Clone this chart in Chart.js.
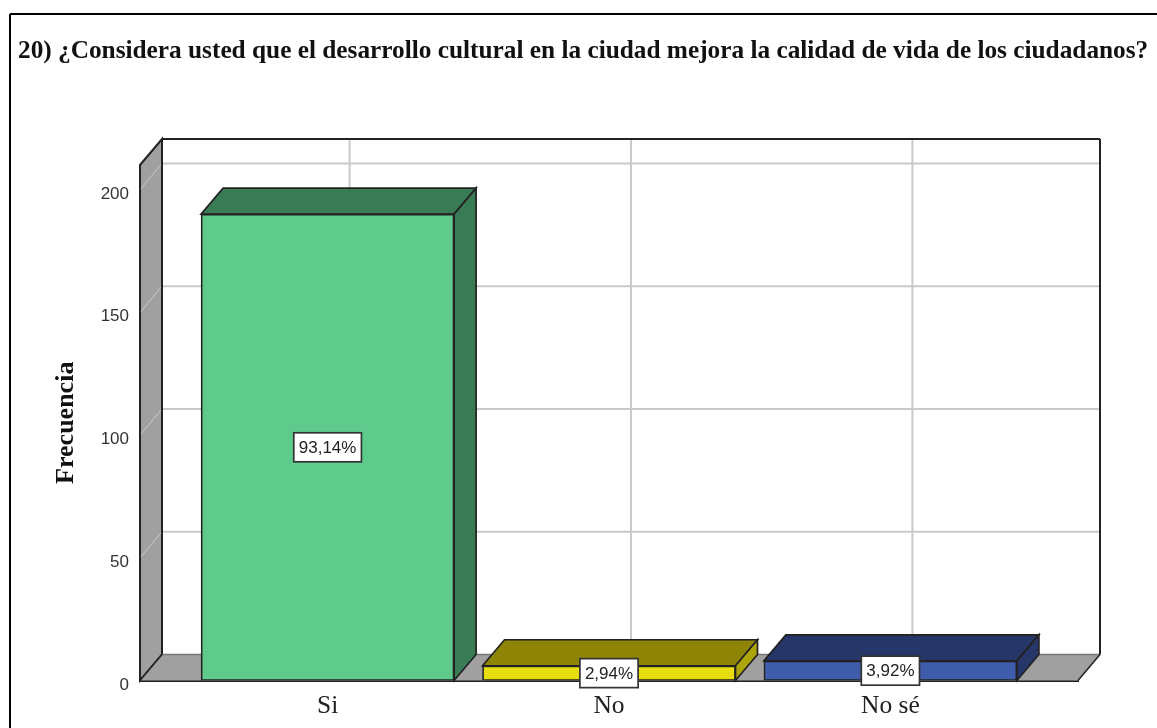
<!DOCTYPE html>
<html>

<head>
    <meta charset="UTF-8">
    <title>Frecuencia</title>
    <script src="https://cdn.jsdelivr.net/npm/chart.js@4.4.0/dist/chart.umd.min.js"></script>
    <style>
        html, body { margin: 0; padding: 0; background: #fff; overflow: hidden; }
        canvas { display: block; }
    </style>
</head>

<body>
    <canvas id="barChart" width="1157" height="728"></canvas>

    <script>
        const chartTitle = '20) ¿Considera usted que el desarrollo cultural en la ciudad mejora la calidad de vida de los ciudadanos?';
        const axisTitle = 'Frecuencia';
        const categories = ['Si', 'No', 'No sé'];
        const frequencies = [190, 6, 8];
        const percentLabels = ['93,14%', '2,94%', '3,92%'];
        const yTicks = [0, 50, 100, 150, 200];

        const frontColors = ['#5ECB8C', '#E6DC0E', '#3F5DAA'];
        const topColors = ['#387B54', '#8E8507', '#263668'];
        const sideColors = ['#387B54', '#ADA40A', '#263668'];

        // depth of the fake 3D box, in pixels
        const depthX = 22;
        const depthY = 26;
        const lineColor = '#222';
        const gridColor = '#c9c9c9';
        const wallColor = '#a0a0a0';

        function polygon(ctx, pts, fill, stroke, width) {
            ctx.beginPath();
            pts.forEach((p, i) => i ? ctx.lineTo(p[0], p[1]) : ctx.moveTo(p[0], p[1]));
            ctx.closePath();
            ctx.fillStyle = fill;
            ctx.fill();
            if (stroke) {
                ctx.strokeStyle = stroke;
                ctx.lineWidth = width;
                ctx.stroke();
            }
        }

        function line(ctx, x1, y1, x2, y2, color, width) {
            ctx.beginPath();
            ctx.moveTo(x1, y1);
            ctx.lineTo(x2, y2);
            ctx.strokeStyle = color;
            ctx.lineWidth = width;
            ctx.stroke();
        }

        const boxPlugin = {
            id: 'box3d',
            afterLayout(chart) {
                // the title runs past the plot, chart.js would squeeze it to the padded width
                chart.titleBlock.right = chart.width;
            },
            beforeDraw(chart) {
                const ctx = chart.ctx;
                // outer frame, cut off by the picture on the right and at the bottom
                ctx.save();
                line(ctx, 10, 14, 1157, 14, '#000', 2);
                line(ctx, 10, 14, 10, 728, '#000', 2);
                ctx.restore();
            },
            beforeDatasetsDraw(chart) {
                const ctx = chart.ctx;
                const a = chart.chartArea;
                const y = chart.scales.y;
                const x = chart.scales.x;
                ctx.save();

                // back wall grid
                yTicks.forEach(v => {
                    const py = y.getPixelForValue(v);
                    if (v > 0) line(ctx, a.left + depthX, py - depthY, a.right + depthX, py - depthY, gridColor, 2);
                });
                categories.forEach((c, i) => {
                    const px = x.getPixelForValue(i) + depthX;
                    line(ctx, px, a.top - depthY, px, a.bottom - depthY, gridColor, 2);
                });

                // left wall
                polygon(ctx, [[a.left, a.top], [a.left + depthX, a.top - depthY], [a.left + depthX, a.bottom - depthY], [a.left, a.bottom]], wallColor, lineColor, 2);
                yTicks.forEach(v => {
                    const py = y.getPixelForValue(v);
                    line(ctx, a.left + 1, py - 1, a.left + depthX - 1, py - depthY + 1, gridColor, 1);
                });

                // floor
                polygon(ctx, [[a.left, a.bottom], [a.left + depthX, a.bottom - depthY], [a.right + depthX, a.bottom - depthY], [a.right, a.bottom]], wallColor);
                line(ctx, a.left + depthX, a.bottom - depthY, a.right + depthX, a.bottom - depthY, '#777', 1.5);
                line(ctx, a.right, a.bottom, a.right + depthX, a.bottom - depthY, lineColor, 1.5);
                line(ctx, a.left, a.bottom, a.left + depthX, a.bottom - depthY, lineColor, 1.5);

                // top and right edge of the back wall
                line(ctx, a.left + depthX, a.top - depthY, a.right + depthX, a.top - depthY, lineColor, 2);
                line(ctx, a.right + depthX, a.top - depthY, a.right + depthX, a.bottom - depthY, lineColor, 2);
                line(ctx, a.left + depthX, a.top - depthY, a.left + depthX, a.bottom - depthY, lineColor, 2);

                // top and side faces of the bars
                chart.getDatasetMeta(0).data.forEach((bar, i) => {
                    const l = bar.x - bar.width / 2;
                    const r = bar.x + bar.width / 2;
                    polygon(ctx, [[l, bar.y], [l + depthX, bar.y - depthY], [r + depthX, bar.y - depthY], [r, bar.y]], topColors[i], lineColor, 1.7);
                    polygon(ctx, [[r, bar.y], [r + depthX, bar.y - depthY], [r + depthX, bar.base - depthY], [r, bar.base]], sideColors[i], lineColor, 1.7);
                });
                ctx.restore();
            },
            afterDatasetsDraw(chart) {
                const ctx = chart.ctx;
                ctx.save();
                ctx.font = '17px "Liberation Sans"';
                ctx.textAlign = 'center';
                ctx.textBaseline = 'middle';
                chart.getDatasetMeta(0).data.forEach((bar, i) => {
                    const cy = (bar.y + bar.base) / 2;
                    const w = ctx.measureText(percentLabels[i]).width + 10;
                    const h = 29;
                    ctx.fillStyle = '#fff';
                    ctx.fillRect(bar.x - w / 2, cy - h / 2, w, h);
                    ctx.strokeStyle = '#333';
                    ctx.lineWidth = 1.7;
                    ctx.strokeRect(bar.x - w / 2, cy - h / 2, w, h);
                    ctx.fillStyle = '#222';
                    ctx.fillText(percentLabels[i], bar.x, cy + 1);
                });
                ctx.restore();
            }
        };

        new Chart(document.getElementById('barChart').getContext('2d'), {
            type: 'bar',
            data: {
                datasets: [{
                    data: frequencies.map((v, i) => ({ x: i, y: v })),
                    backgroundColor: frontColors,
                    borderColor: lineColor,
                    borderWidth: 1.7,
                    borderSkipped: false,
                    barThickness: 253,
                }]
            },
            options: {
                responsive: false,
                animation: false,
                devicePixelRatio: 1,
                layout: { padding: { left: 18, right: 79, top: 36, bottom: 0 } },
                plugins: {
                    legend: { display: false },
                    tooltip: { enabled: false },
                    title: {
                        display: true,
                        text: chartTitle,
                        align: 'start',
                        color: '#111',
                        font: { family: '"Liberation Serif"', size: 25.3, weight: 'bold', lineHeight: 1.2 },
                        padding: { top: 0, bottom: 98.64 }
                    }
                },
                scales: {
                    x: {
                        type: 'linear',
                        offset: false,
                        min: -2 / 3,
                        max: 2 + 2 / 3,
                        grid: { display: false },
                        border: { display: true, color: lineColor, width: 2 },
                        afterBuildTicks(scale) {
                            scale.ticks = categories.map((c, i) => ({ value: i }));
                        },
                        afterFit(scale) { scale.height = 47.5; },
                        ticks: {
                            autoSkip: false,
                            maxRotation: 0,
                            padding: 2,
                            color: '#222',
                            font: { family: '"Liberation Serif"', size: 25.5 },
                            callback: v => categories[v]
                        }
                    },
                    y: {
                        min: 0,
                        max: 210,
                        grid: { display: false },
                        border: { display: false },
                        afterBuildTicks(scale) {
                            scale.ticks = yTicks.map(v => ({ value: v }));
                        },
                        afterFit(scale) { scale.width = 122; },
                        ticks: {
                            padding: 3,
                            labelOffset: 4.5,
                            color: '#333',
                            font: { family: '"Liberation Sans"', size: 17 }
                        },
                        title: {
                            display: true,
                            text: axisTitle,
                            color: '#111',
                            padding: { top: 33, bottom: 0 },
                            font: { family: '"Liberation Serif"', size: 26, weight: 'bold', lineHeight: 1.2 }
                        }
                    }
                }
            },
            plugins: [boxPlugin]
        });
    </script>
</body>

</html>
